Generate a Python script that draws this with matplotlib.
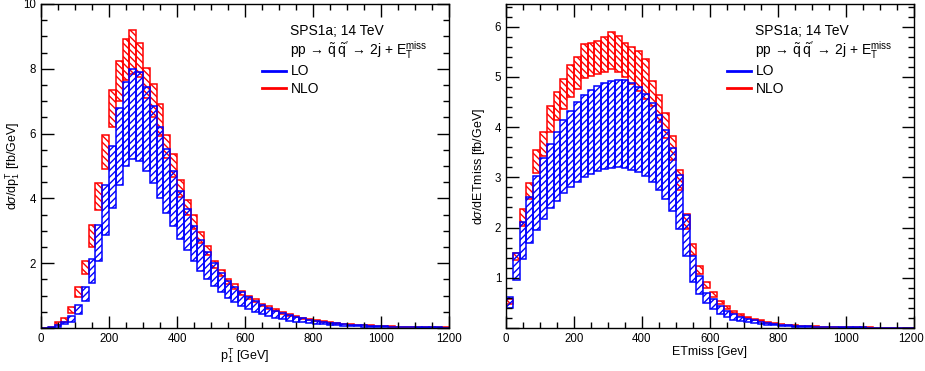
"""
LO / NLO Verteilungen SPS1a, 14 TeV: p1T und ETmiss mit Skalenunsicherheit
"""
import numpy as np
import matplotlib
matplotlib.use('Agg')
from matplotlib import pyplot as plt
from matplotlib.lines import Line2D
from matplotlib.ticker import MultipleLocator
from matplotlib.transforms import ScaledTranslation

plt.rcParams['font.family'] = ['Liberation Sans', 'DejaVu Sans']
plt.rcParams['mathtext.fontset'] = 'custom'
plt.rcParams['mathtext.rm'] = 'Liberation Sans'
plt.rcParams['mathtext.it'] = 'Liberation Sans:italic'
plt.rcParams['hatch.linewidth'] = 1.0

bin_edges = np.arange(0, 1220, 20)
x_ticks = np.arange(0, 1201, 200)

# p1T, linke Seite
pt_lo_low = [0, 0.01, 0.04, 0.11, 0.2, 0.43, 0.82, 1.38, 2.07, 2.88,
             3.69, 4.42, 5.0, 5.22, 5.15, 4.84, 4.48, 4.0, 3.55, 3.14,
             2.75, 2.42, 2.06, 1.75, 1.51, 1.29, 1.10, 0.93, 0.80, 0.68,
             0.58, 0.49, 0.42, 0.36, 0.31, 0.27, 0.23, 0.20, 0.17, 0.15,
             0.13, 0.11, 0.095, 0.08, 0.07, 0.06, 0.05, 0.045, 0.04, 0.034,
             0.03, 0.026, 0.023, 0.02, 0.017, 0.015, 0.013, 0.011, 0.01, 0.009]
pt_lo_high = [0, 0.02, 0.08, 0.2, 0.36, 0.70, 1.27, 2.12, 3.18, 4.41,
              5.61, 6.79, 7.6, 8.0, 7.9, 7.45, 6.85, 6.2, 5.51, 4.84,
              4.24, 3.68, 3.16, 2.73, 2.34, 2.0, 1.70, 1.44, 1.27, 1.10,
              0.95, 0.82, 0.71, 0.62, 0.54, 0.46, 0.40, 0.35, 0.30, 0.26,
              0.22, 0.19, 0.16, 0.14, 0.12, 0.10, 0.09, 0.08, 0.07, 0.06,
              0.05, 0.045, 0.04, 0.035, 0.03, 0.026, 0.022, 0.02, 0.018, 0.015]
pt_nlo_low = [0, 0.02, 0.1, 0.2, 0.47, 0.95, 1.67, 2.5, 3.65, 4.92,
              6.2, 7.0, 7.65, 7.85, 7.75, 7.1, 6.5, 5.92, 5.25, 4.65,
              4.05, 3.5, 3.05, 2.62, 2.25, 1.85, 1.6, 1.36, 1.2, 1.02,
              0.9, 0.79, 0.67, 0.6, 0.53, 0.44, 0.38, 0.33, 0.28, 0.24,
              0.21, 0.185, 0.16, 0.135, 0.115, 0.1, 0.088, 0.078, 0.07, 0.06,
              0.052, 0.045, 0.04, 0.035, 0.03, 0.026, 0.023, 0.02, 0.017, 0.015]
pt_nlo_high = [0, 0.04, 0.18, 0.30, 0.65, 1.27, 2.06, 3.18, 4.47, 5.97,
               7.34, 8.23, 8.93, 9.2, 8.8, 8.03, 7.54, 6.92, 5.95, 5.38,
               4.57, 3.96, 3.50, 2.97, 2.54, 2.06, 1.80, 1.51, 1.37, 1.13,
               1.00, 0.88, 0.75, 0.67, 0.59, 0.49, 0.43, 0.37, 0.32, 0.27,
               0.24, 0.21, 0.18, 0.155, 0.13, 0.115, 0.10, 0.09, 0.08, 0.07,
               0.06, 0.052, 0.046, 0.04, 0.035, 0.03, 0.026, 0.023, 0.02, 0.018]

# ETmiss, rechte Seite
et_lo_low = [0.40, 0.95, 1.38, 1.70, 1.96, 2.17, 2.38, 2.53, 2.68, 2.81,
             2.91, 3.01, 3.07, 3.13, 3.17, 3.19, 3.20, 3.19, 3.15, 3.11,
             3.02, 2.90, 2.74, 2.56, 2.32, 1.97, 1.43, 0.91, 0.67, 0.49,
             0.37, 0.27, 0.21, 0.16, 0.13, 0.11, 0.09, 0.07, 0.06, 0.05,
             0.04, 0.034, 0.028, 0.024, 0.02, 0.017, 0.014, 0.012, 0.01, 0.009,
             0.008, 0.007, 0.006, 0.005, 0.005, 0.004, 0.004, 0.003, 0.003, 0.002]
et_lo_high = [0.62, 1.50, 2.11, 2.60, 3.02, 3.38, 3.67, 3.90, 4.14, 4.32,
              4.49, 4.64, 4.74, 4.82, 4.87, 4.92, 4.94, 4.93, 4.87, 4.79,
              4.66, 4.48, 4.25, 3.95, 3.58, 3.05, 2.24, 1.43, 1.03, 0.70,
              0.57, 0.44, 0.34, 0.27, 0.22, 0.18, 0.15, 0.12, 0.10, 0.08,
              0.065, 0.055, 0.045, 0.038, 0.032, 0.027, 0.023, 0.02, 0.017, 0.015,
              0.013, 0.011, 0.01, 0.009, 0.008, 0.007, 0.006, 0.005, 0.005, 0.004]
et_nlo_low = [0.48, 1.36, 2.03, 2.57, 3.09, 3.42, 3.90, 4.15, 4.35, 4.6,
              4.75, 4.98, 5.02, 5.05, 5.1, 5.15, 5.1, 5.0, 4.85, 4.72,
              4.55, 4.42, 4.1, 3.78, 3.35, 2.75, 1.98, 1.45, 1.07, 0.8,
              0.62, 0.47, 0.38, 0.29, 0.23, 0.19, 0.155, 0.13, 0.105, 0.085,
              0.07, 0.058, 0.049, 0.041, 0.034, 0.029, 0.025, 0.021, 0.018, 0.015,
              0.013, 0.011, 0.009, 0.008, 0.007, 0.006, 0.005, 0.005, 0.004, 0.004]
et_nlo_high = [0.58, 1.50, 2.37, 2.89, 3.54, 3.90, 4.42, 4.69, 4.95, 5.23,
               5.40, 5.66, 5.68, 5.72, 5.79, 5.90, 5.82, 5.68, 5.60, 5.52,
               5.35, 4.91, 4.64, 4.28, 3.83, 3.15, 2.27, 1.68, 1.23, 0.91,
               0.72, 0.54, 0.44, 0.34, 0.27, 0.22, 0.18, 0.15, 0.12, 0.10,
               0.08, 0.068, 0.057, 0.048, 0.04, 0.034, 0.029, 0.025, 0.021, 0.018,
               0.015, 0.013, 0.011, 0.01, 0.009, 0.008, 0.007, 0.006, 0.005, 0.005]

process_label = (r'pp → $\tilde{\mathrm{q}}\;\tilde{\mathrm{q}}^{\prime}$'
                 r' → 2j + E$_\mathrm{T}^\mathrm{miss}$')


def draw_band(ax, low, high, color, hatch):
    low = np.array(low)
    high = np.array(high)
    ax.bar(bin_edges[:-1], high - low, width=20, bottom=low, align='edge',
           fill=False, hatch=hatch, edgecolor=color, linewidth=1.1)


def style_axes(ax, ymax, ymajor, yminor, xlabel, ylabel):
    ax.set_xlim(0, 1200)
    ax.set_ylim(0, ymax)
    ax.set_xticks(x_ticks)
    ax.xaxis.set_minor_locator(MultipleLocator(50))
    ax.yaxis.set_major_locator(MultipleLocator(ymajor))
    ax.yaxis.set_minor_locator(MultipleLocator(yminor))
    ax.yaxis.set_major_formatter(lambda v, pos: '' if v == 0 else f'{v:g}')
    ax.tick_params(which='both', direction='in', top=True, right=True, labelsize=8.3, width=1)
    ax.tick_params(which='major', length=9)
    ax.tick_params(which='minor', length=4.5)
    ax.set_xlabel(xlabel, fontsize=9, labelpad=1)
    ax.set_ylabel(ylabel, fontsize=9)
    ax.yaxis.set_label_coords(-0.046, 0.5)
    for sp in ax.spines.values():
        sp.set_linewidth(1)
    ax.text(0.61, 0.917, 'SPS1a; 14 TeV', transform=ax.transAxes, fontsize=10, va='center')
    ax.text(0.61, 0.858, process_label, transform=ax.transAxes, fontsize=10, va='center')
    handles = [Line2D([], [], color='blue', lw=2, label='LO'),
               Line2D([], [], color='red', lw=2, label='NLO')]
    ax.legend(handles=handles, loc='upper left', bbox_to_anchor=(0.525, 0.835), frameon=False,
              fontsize=10, handlelength=1.7, handletextpad=0.4, labelspacing=0.25, borderpad=0)


def main():
    fig = plt.figure(figsize=(9.25, 3.71), dpi=100)
    ax1 = fig.add_axes([41 / 925, 43 / 371, 408 / 925, 324 / 371])
    ax2 = fig.add_axes([506 / 925, 43 / 371, 408 / 925, 324 / 371])

    draw_band(ax1, pt_nlo_low, pt_nlo_high, 'red', '\\\\\\\\\\')
    draw_band(ax1, pt_lo_low, pt_lo_high, 'blue', '/////')
    style_axes(ax1, 10, 2, 0.5, r'p$_\mathrm{1}^\mathrm{T}$ [GeV]',
               r'd$\sigma$/dp$_\mathrm{1}^\mathrm{T}$ [fb/GeV]')

    draw_band(ax2, et_nlo_low, et_nlo_high, 'red', '\\\\\\\\\\')
    draw_band(ax2, et_lo_low, et_lo_high, 'blue', '/////')
    style_axes(ax2, 6.45, 1, 0.2, 'ETmiss [Gev]', r'd$\sigma$/dETmiss [fb/GeV]')

    # letzte Beschriftung rechts etwas nach innen, sonst abgeschnitten
    fig.canvas.draw()
    last = ax2.xaxis.get_major_ticks()[-1].label1
    last.set_transform(last.get_transform() + ScaledTranslation(-3 / 100, 0, fig.dpi_scale_trans))

    fig.savefig('out.png', dpi=100)


if __name__ == '__main__':
    main()
